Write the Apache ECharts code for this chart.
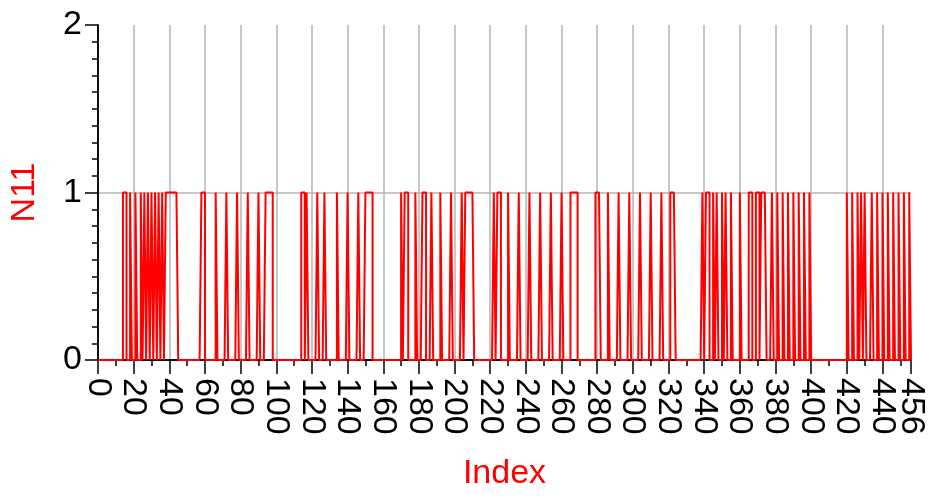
<!DOCTYPE html>
<html>
<head>
<meta charset="utf-8">
<script src="https://cdn.jsdelivr.net/npm/echarts@6/dist/echarts.min.js"></script>
<style>
	html, body { margin: 0; padding: 0; background: #fff; }
	#chart { width: 928px; height: 497px; }
</style>
</head>
<body>
<div id="chart"></div>
<script>
// N11 is high (1) on [start, end) index ranges, low (0) elsewhere
var indexMax = 456;
var highStart = [
	14, 18, 21, 24, 26, 28, 30, 32, 34, 36, 38,
	58, 66, 72, 78, 84, 90, 94,
	114, 117, 123, 127, 134, 140, 146, 150,
	170, 172, 178, 182, 187, 192, 198, 204, 206,
	222, 224, 230, 236, 242, 248, 254, 260, 265,
	279, 286, 292, 298, 304, 310, 316, 321,
	339, 341, 345, 347, 350, 352, 355, 360, 365, 369, 372,
	378, 381, 384, 387, 390, 393, 396, 399,
	420, 423, 426, 428, 430, 434, 437, 440, 443, 446, 449, 452, 455
];
var highEnd = [
	16, 19, 22, 25, 27, 29, 31, 33, 35, 37, 45,
	60, 67, 73, 79, 85, 91, 98,
	116, 118, 124, 128, 135, 141, 147, 154,
	171, 174, 179, 184, 188, 193, 199, 205, 211,
	223, 226, 231, 237, 243, 249, 255, 261, 269,
	282, 287, 293, 299, 305, 311, 317, 324,
	340, 343, 346, 348, 351, 353, 356, 361, 367, 371, 375,
	379, 382, 385, 388, 391, 394, 397, 400,
	421, 424, 427, 429, 431, 435, 438, 441, 444, 447, 450, 453, 456
];
var yTicks = [0, 1, 2];
var endTick = [indexMax];

var font = 'Liberation Sans, Arial, sans-serif';

function buildSignal(){
	var arr = [];
	for (var i = 0; i <= indexMax; i++) {
		var v = 0;
		for (var k = 0; k < highStart.length; k++) {
			if (i >= highStart[k] && i < highEnd[k]) { v = 1; break; }
		}
		arr.push([i, v]);
	}
	return arr;
}

var labelStyle = {
	rotate : -90,
	margin : 18,
	color : '#000',
	fontSize : 34,
	fontFamily : font
};

var myChart = echarts.init(document.getElementById('chart'), null, {renderer: 'canvas'});

var option = {
	backgroundColor : '#fff',
	animation : false,
	grid : {
		left : 96,
		right : 17,
		top : 25,
		bottom : 137
	},
	xAxis : [
		{
			type : 'value',
			min : 0,
			max : indexMax,
			interval : 20,
			name : 'Index',
			nameLocation : 'middle',
			nameGap : 97,
			nameTextStyle : {
				color : '#ff0000',
				fontSize : 34,
				fontFamily : font
			},
			axisLine : {
				lineStyle : { color : '#000', width : 1.5 }
			},
			axisTick : {
				length : 14,
				lineStyle : { color : '#000', width : 1.5 }
			},
			minorTick : {
				show : true,
				splitNumber : 2,
				length : 6,
				lineStyle : { color : '#000', width : 1.5 }
			},
			axisLabel : echarts.util.extend({
				showMaxLabel : false,
				showMinLabel : true
			}, labelStyle),
			splitLine : {
				show : true,
				showMinLine : false,
				showMaxLine : false,
				lineStyle : { color : '#b4b4b4', width : 1.5 }
			}
		},
		{
			type : 'value',
			position : 'top',
			min : 0,
			max : indexMax,
			axisLine : { show : true, lineStyle : { color : '#000', width : 1.5 } },
			axisTick : { show : false },
			axisLabel : { show : false },
			splitLine : { show : false }
		},
		{
			// end label "456" sits too close to 440 for the main axis to keep both
			type : 'value',
			position : 'bottom',
			min : 0,
			max : indexMax,
			axisLine : { show : false },
			axisTick : {
				show : true,
				customValues : endTick,
				length : 14,
				lineStyle : { color : '#000', width : 1.5 }
			},
			axisLabel : echarts.util.extend({
				customValues : endTick
			}, labelStyle),
			splitLine : { show : false }
		}
	],
	yAxis : [
		{
			type : 'value',
			min : yTicks[0],
			max : yTicks[yTicks.length - 1],
			interval : 1,
			name : 'N11',
			nameLocation : 'middle',
			nameGap : 56,
			nameTextStyle : {
				color : '#ff0000',
				fontSize : 34,
				fontFamily : font
			},
			axisLine : {
				show : true,
				lineStyle : { color : '#000', width : 1.5 }
			},
			axisTick : {
				show : true,
				length : 13,
				lineStyle : { color : '#000', width : 1.5 }
			},
			minorTick : {
				show : true,
				splitNumber : 10,
				length : 6,
				lineStyle : { color : '#000', width : 1.5 }
			},
			axisLabel : {
				margin : 16,
				color : '#000',
				fontSize : 34,
				fontFamily : font
			},
			splitLine : {
				show : true,
				showMinLine : false,
				showMaxLine : false,
				lineStyle : { color : '#b4b4b4', width : 1.5 }
			}
		},
		{
			type : 'value',
			position : 'right',
			min : 0,
			max : 2,
			axisLine : { show : true, lineStyle : { color : '#000', width : 1.5 } },
			axisTick : { show : false },
			axisLabel : { show : false },
			splitLine : { show : false }
		}
	],
	series : [
		{
			name : 'N11',
			type : 'line',
			step : 'end',
			showSymbol : false,
			xAxisIndex : 0,
			yAxisIndex : 0,
			data : buildSignal(),
			lineStyle : {
				color : '#ff0000',
				width : 2
			},
			itemStyle : {
				color : '#ff0000'
			}
		}
	]
};

myChart.setOption(option);
</script>
</body>
</html>
